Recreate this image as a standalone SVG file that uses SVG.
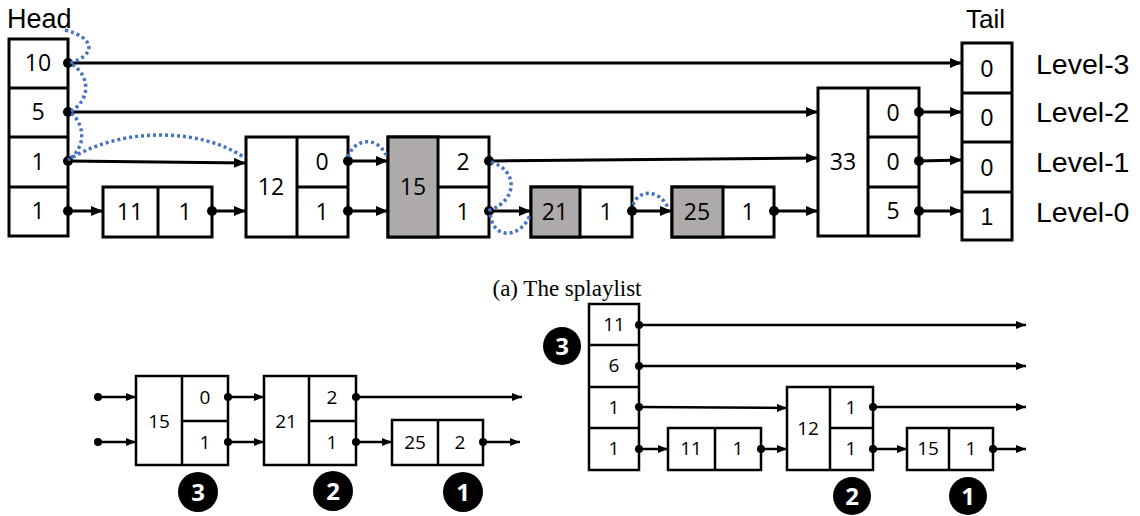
<svg xmlns="http://www.w3.org/2000/svg" width="1140" height="516" viewBox="0 0 1140 516">
<defs>
<marker id="ah" markerUnits="userSpaceOnUse" markerWidth="13" markerHeight="11" refX="12" refY="5" orient="auto"><path d="M0,0 L12,5 L0,10 z" fill="#000"/></marker>
<marker id="ahs" markerUnits="userSpaceOnUse" markerWidth="11" markerHeight="9" refX="10" refY="4" orient="auto"><path d="M0,0 L10,4 L0,8 z" fill="#000"/></marker>
<style>
.b{fill:#fff;stroke:#000;stroke-width:3}
.g{fill:#aeaaaa;stroke:#000;stroke-width:3}
.l{stroke:#000;stroke-width:3;fill:none}
.bs{fill:#fff;stroke:#000;stroke-width:2.5}
.ls{stroke:#000;stroke-width:2.5;fill:none}
.c{font-family:"Open Sans","Noto Sans",sans-serif;font-size:23px;text-anchor:middle;fill:#000}
.cs{font-family:"Open Sans","Noto Sans",sans-serif;font-size:19px;text-anchor:middle;fill:#000}
.a{font-family:"Liberation Sans",Arial,sans-serif;fill:#000}
.tl{font-family:"Liberation Sans",Arial,sans-serif;font-size:23px;text-anchor:middle;fill:#000}
.lv{font-family:"Liberation Sans",Arial,sans-serif;font-size:28.5px;fill:#000}
.ar{stroke:#000;stroke-width:3;fill:none;marker-end:url(#ah)}
.ars{stroke:#000;stroke-width:2.5;fill:none;marker-end:url(#ahs)}
.d{fill:#000}
.blue{stroke:#4472c4;stroke-width:3.5;fill:none;stroke-dasharray:3 3}
.num{font-family:"Open Sans","Noto Sans",sans-serif;font-weight:bold;font-size:24px;text-anchor:middle;fill:#fff}
</style>
</defs>

<text class="a" x="7" y="28" font-size="27">Head</text>
<text class="a" x="966" y="28" font-size="26">Tail</text>
<text class="lv" x="1036" y="74">Level-3</text>
<text class="lv" x="1036" y="122">Level-2</text>
<text class="lv" x="1036" y="172">Level-1</text>
<text class="lv" x="1036" y="222">Level-0</text>

<g id="head">
<rect class="b" x="9" y="39" width="59" height="197"/>
<path class="l" d="M9,88 H68 M9,137 H68 M9,187 H68"/>
<text class="c" x="38" y="71">10</text>
<text class="c" x="38" y="120">5</text>
<text class="c" x="38" y="170">1</text>
<text class="c" x="38" y="219">1</text>
</g>

<g id="n11">
<rect class="b" x="103" y="187" width="109" height="50"/>
<path class="l" d="M158,187 V237"/>
<text class="c" x="130" y="220">11</text>
<text class="c" x="185" y="220">1</text>
</g>

<g id="n12">
<rect class="b" x="246" y="137" width="102" height="100"/>
<path class="l" d="M297,137 V237 M297,187 H348"/>
<text class="c" x="271" y="195">12</text>
<text class="c" x="322" y="170">0</text>
<text class="c" x="322" y="220">1</text>
</g>

<g id="n15">
<rect class="b" x="388" y="137" width="101" height="100"/>
<rect class="g" x="388" y="137" width="50" height="100"/>
<path class="l" d="M438,187 H489"/>
<text class="c" x="413" y="195">15</text>
<text class="c" x="463" y="170">2</text>
<text class="c" x="463" y="220">1</text>
</g>

<g id="n21">
<rect class="b" x="531" y="187" width="101" height="50"/>
<rect class="g" x="531" y="187" width="49" height="50"/>
<text class="c" x="555" y="220">21</text>
<text class="c" x="606" y="220">1</text>
</g>

<g id="n25">
<rect class="b" x="672" y="187" width="102" height="50"/>
<rect class="g" x="672" y="187" width="51" height="50"/>
<text class="c" x="697" y="220">25</text>
<text class="c" x="748" y="220">1</text>
</g>

<g id="n33">
<rect class="b" x="818" y="88" width="101" height="148"/>
<path class="l" d="M868,88 V236 M868,137 H919 M868,187 H919"/>
<text class="c" x="843" y="170">33</text>
<text class="c" x="893" y="121">0</text>
<text class="c" x="893" y="170">0</text>
<text class="c" x="893" y="219">5</text>
</g>

<g id="tail">
<rect class="b" x="962" y="43" width="50" height="197"/>
<path class="l" d="M962,93 H1012 M962,142 H1012 M962,192 H1012"/>
<text class="tl" x="987" y="77">0</text>
<text class="tl" x="987" y="126">0</text>
<text class="tl" x="987" y="176">0</text>
<text class="tl" x="987" y="225">1</text>
</g>

<g id="connectors">
<path class="ar" d="M68,63 L962,63"/>
<path class="ar" d="M68,112 L818,112"/>
<path class="ar" d="M68,161 L246,163"/>
<path class="ar" d="M348,161 L388,161"/>
<path class="ar" d="M489,161 L818,158"/>
<path class="ar" d="M919,112 L962,112"/>
<path class="ar" d="M919,161 L962,160"/>
<path class="ar" d="M68,211 L103,211"/>
<path class="ar" d="M212,211 L246,211"/>
<path class="ar" d="M348,211 L388,211"/>
<path class="ar" d="M489,211 L531,211"/>
<path class="ar" d="M632,211 L672,211"/>
<path class="ar" d="M774,211 L818,211"/>
<path class="ar" d="M919,211 L962,211"/>
<circle class="d" cx="68" cy="63" r="5"/>
<circle class="d" cx="68" cy="112" r="5"/>
<circle class="d" cx="68" cy="161" r="5"/>
<circle class="d" cx="68" cy="211" r="5"/>
<circle class="d" cx="212" cy="211" r="5"/>
<circle class="d" cx="348" cy="161" r="5"/>
<circle class="d" cx="348" cy="211" r="5"/>
<circle class="d" cx="489" cy="161" r="5"/>
<circle class="d" cx="489" cy="211" r="5"/>
<circle class="d" cx="632" cy="211" r="5"/>
<circle class="d" cx="774" cy="211" r="5"/>
<circle class="d" cx="919" cy="112" r="5"/>
<circle class="d" cx="919" cy="161" r="5"/>
<circle class="d" cx="919" cy="211" r="5"/>

<path class="blue" d="M65,30 C96,38 96,55 70,63 C91,75 91,100 70,112 C86,125 86,148 68,160 C120,127 200,127 245,158"/>
<path class="blue" d="M348,157 C355,137 378,137 386,155"/>
<path class="blue" d="M491,162 C518,170 518,200 490,210 C490,240 520,240 530,215"/>
<path class="blue" d="M633,205 C638,189 660,189 668,208"/>
</g>

<text x="567" y="296" font-family="Liberation Serif,'Times New Roman',serif" font-size="23" text-anchor="middle">(a) The splaylist</text>

<g id="bl15">
<rect class="bs" x="136" y="376" width="92" height="89"/>
<path class="ls" d="M182,376 V465 M182,421 H228"/>
<text class="cs" x="159" y="428">15</text>
<text class="cs" x="205" y="404">0</text>
<text class="cs" x="205" y="449">1</text>
</g>
<g id="bl21">
<rect class="bs" x="264" y="376" width="92" height="89"/>
<path class="ls" d="M309,376 V465 M309,421 H356"/>
<text class="cs" x="286" y="428">21</text>
<text class="cs" x="332" y="404">2</text>
<text class="cs" x="332" y="449">1</text>
</g>
<g id="bl25">
<rect class="bs" x="392" y="420" width="91" height="45"/>
<path class="ls" d="M438,420 V465"/>
<text class="cs" x="415" y="449">25</text>
<text class="cs" x="460" y="449">2</text>
</g>
<g id="bl-connectors">
<path class="ars" d="M98,397 L136,397"/>
<path class="ars" d="M98,442 L136,442"/>
<path class="ars" d="M228,397 L264,397"/>
<path class="ars" d="M228,442 L264,442"/>
<path class="ars" d="M356,397 L522,397"/>
<path class="ars" d="M356,442 L392,442"/>
<path class="ars" d="M483,442 L520,442"/>
<circle class="d" cx="98" cy="397" r="4"/>
<circle class="d" cx="98" cy="442" r="4"/>
<circle class="d" cx="228" cy="397" r="4"/>
<circle class="d" cx="228" cy="442" r="4"/>
<circle class="d" cx="356" cy="397" r="4"/>
<circle class="d" cx="356" cy="442" r="4"/>
<circle class="d" cx="483" cy="442" r="4"/>
</g>
<g id="bl-steps">
<circle cx="198" cy="492" r="20" fill="#000"/><text class="num" x="198" y="501">3</text>
<circle cx="333" cy="491" r="20" fill="#000"/><text class="num" x="333" y="500">2</text>
<circle cx="463" cy="492" r="20" fill="#000"/><text class="num" x="463" y="501">1</text>
</g>

<g id="brhead">
<rect class="bs" x="589" y="304" width="50" height="166"/>
<path class="ls" d="M589,345 H639 M589,387 H639 M589,428 H639"/>
<text class="cs" x="614" y="331">11</text>
<text class="cs" x="614" y="372">6</text>
<text class="cs" x="614" y="414">1</text>
<text class="cs" x="614" y="455">1</text>
</g>
<g id="br11">
<rect class="bs" x="668" y="428" width="93" height="42"/>
<path class="ls" d="M715,428 V470"/>
<text class="cs" x="691" y="455">11</text>
<text class="cs" x="738" y="455">1</text>
</g>
<g id="br12">
<rect class="bs" x="787" y="387" width="86" height="83"/>
<path class="ls" d="M830,387 V470 M830,428 H873"/>
<text class="cs" x="808" y="435">12</text>
<text class="cs" x="851" y="414">1</text>
<text class="cs" x="851" y="455">1</text>
</g>
<g id="br15">
<rect class="bs" x="907" y="428" width="86" height="42"/>
<path class="ls" d="M949,428 V470"/>
<text class="cs" x="928" y="455">15</text>
<text class="cs" x="971" y="455">1</text>
</g>
<g id="br-connectors">
<path class="ars" d="M639,325 L1026,325"/>
<path class="ars" d="M639,366 L1026,366"/>
<path class="ars" d="M639,407 L787,408"/>
<path class="ars" d="M639,449 L668,449"/>
<path class="ars" d="M761,449 L787,449"/>
<path class="ars" d="M873,407 L1026,407"/>
<path class="ars" d="M873,449 L907,449"/>
<path class="ars" d="M993,449 L1026,449"/>
<circle class="d" cx="639" cy="325" r="4"/>
<circle class="d" cx="639" cy="366" r="4"/>
<circle class="d" cx="639" cy="407" r="4"/>
<circle class="d" cx="639" cy="449" r="4"/>
<circle class="d" cx="761" cy="449" r="4"/>
<circle class="d" cx="873" cy="407" r="4"/>
<circle class="d" cx="873" cy="449" r="4"/>
<circle class="d" cx="993" cy="449" r="4"/>
</g>
<g id="br-steps">
<circle cx="562" cy="346" r="19" fill="#000"/><text class="num" x="562" y="355">3</text>
<circle cx="852" cy="496" r="19" fill="#000"/><text class="num" x="852" y="505">2</text>
<circle cx="968" cy="496" r="19" fill="#000"/><text class="num" x="968" y="505">1</text>
</g>
</svg>
